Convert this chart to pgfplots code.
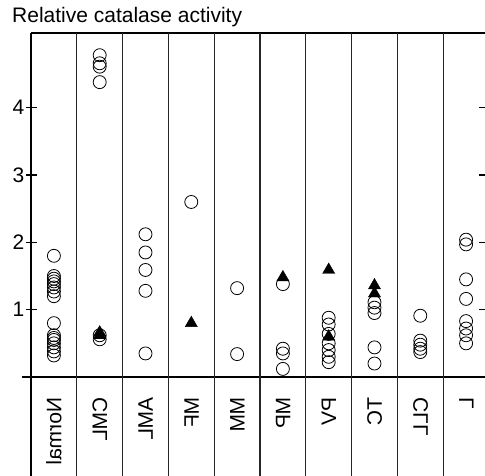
\documentclass[border=0pt]{standalone}
\usepackage{fontspec}
\setmainfont{Liberation Sans}
\usepackage{pgfplots}
\pgfplotsset{compat=1.18}

\begin{document}
\begin{tikzpicture}
\begin{axis}[
  at={(31pt,99pt)}, anchor=south west,
  width=454pt, height=344pt, scale only axis,
  xmin=0, xmax=9.913, ymin=0, ymax=5.11,
  axis line style={draw=none},
  xtick=\empty,
  ytick={1,2,3,4},
  tick align=center,
  major tick length=11pt,
  ytick style={line width=1.4pt, black},
  yticklabel style={font=\fontsize{21}{24}\selectfont, inner sep=0pt, xshift=-1pt},
  /pgf/number format/assume math mode=true,
  clip=false,
]
% open circles: individual patients
\addplot[only marks, mark=o, mark size=6.5pt, mark options={line width=0.8pt, black}] coordinates {
  (0.5,1.80) (0.5,1.50) (0.5,1.46) (0.5,1.42) (0.5,1.38) (0.5,1.33) (0.5,1.27) (0.5,1.20)
  (0.5,0.80) (0.5,0.62) (0.5,0.58) (0.5,0.55) (0.5,0.50) (0.5,0.44) (0.5,0.38) (0.5,0.32)
  (1.5,4.78) (1.5,4.66) (1.5,4.61) (1.5,4.38) (1.5,0.62) (1.5,0.56)
  (2.5,2.12) (2.5,1.85) (2.5,1.59) (2.5,1.28) (2.5,0.35)
  (3.5,2.60)
  (4.5,1.32) (4.5,0.34)
  (5.5,1.38) (5.5,0.42) (5.5,0.35) (5.5,0.12)
  (6.5,0.88) (6.5,0.78) (6.5,0.64) (6.5,0.50) (6.5,0.40) (6.5,0.30) (6.5,0.22)
  (7.5,1.11) (7.5,1.03) (7.5,0.95) (7.5,0.44) (7.5,0.20)
  (8.5,0.91) (8.5,0.54) (8.5,0.48) (8.5,0.42) (8.5,0.37)
  (9.5,2.04) (9.5,1.97) (9.5,1.45) (9.5,1.16) (9.5,0.83) (9.5,0.72) (9.5,0.62) (9.5,0.50)
};
% filled triangles
\addplot[only marks, mark=triangle*, mark size=7pt, mark options={black, fill=black}] coordinates {
  (1.5,0.62) (1.5,0.66)
  (3.5,0.80)
  (5.5,1.48)
  (6.5,1.59) (6.5,0.60)
  (7.5,1.36) (7.5,1.24)
};
% frame and column separators
\draw[line width=2pt, black] (axis cs:0,-1.471) -- (axis cs:0,5.11);
\draw[line width=2pt, black] (axis cs:0,5.11) -- (axis cs:9.913,5.11);
\draw[line width=2pt, black] ([xshift=-9pt]axis cs:0,0) -- (axis cs:9.913,0);
\pgfplotsinvokeforeach{1,...,9}{
  \draw[line width=1.2pt, black!85] (axis cs:#1,5.11) -- (axis cs:#1,-1.471);
}
% category names, running down each column
\foreach \xx/\name in {0.5/Normal,1.5/CML,2.5/AML,3.5/MF,4.5/MM,5.5/MP,6.5/PV,7.5/TC,8.5/CLL,9.5/L}{
  \edef\temp{\noexpand\node[cm={0,-1,-1,0,(0,0)}, anchor=west, inner sep=0pt,
    text height=15pt, text depth=0pt, font=\noexpand\fontsize{21}{24}\noexpand\selectfont]
    at ([yshift=-20pt]axis cs:\xx,0) {\name};}
  \temp
}
\end{axis}
\node[anchor=base west, inner sep=0pt, font=\fontsize{21}{24}\selectfont] at (12pt,453pt) {Relative catalase activity};
\pgfresetboundingbox
\path[use as bounding box] (0pt,0pt) rectangle (485pt,476pt);
\end{tikzpicture}
\end{document}
